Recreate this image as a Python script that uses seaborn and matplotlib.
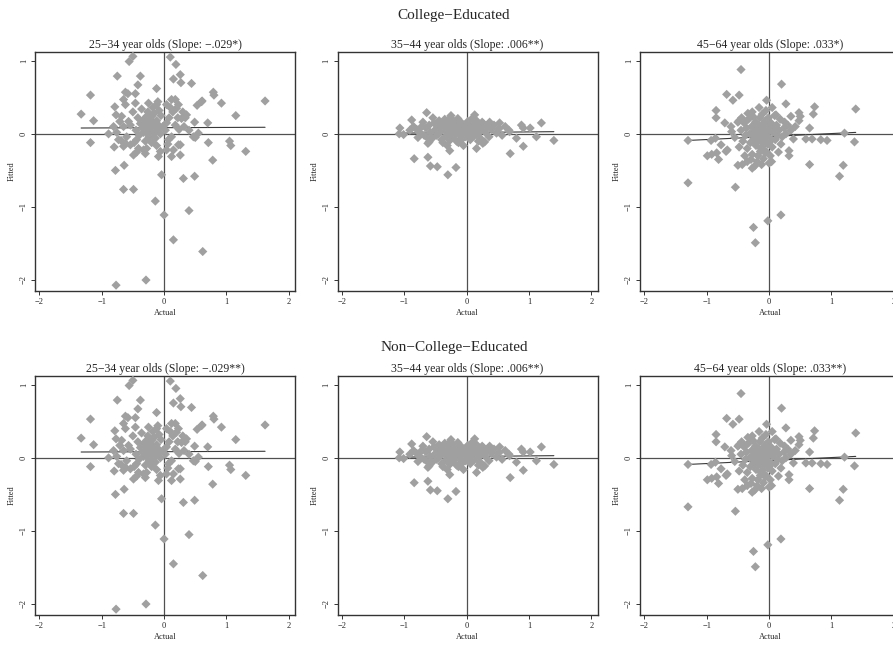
import numpy as np
import pandas as pd
import seaborn as sns
from matplotlib import pyplot as plt

# actual vs fitted
young_actual = [-0.50, -0.56, 0.10, 0.19, -0.75, -0.38, 0.15, 0.26, 0.27, 0.44, -0.42, -1.18, -0.62, -0.58, -0.46,
                -0.12, 0.79, 0.80, 1.62, 0.61, 0.53, 0.92, -1.33, -1.13, 1.15, 0.70, 0.49, 0.34, -1.18, -0.89,
                -0.80, -0.65, -0.54, -0.69, 1.05, 1.07, 1.31, 0.78, 0.71, 0.50, -0.78, -0.64, -0.09, -0.04, 0.31,
                0.49, -0.65, -0.49, -0.14, 0.00, 0.40, 0.15, 0.62, -0.29, -0.77, -0.30, -0.44, 0.26, 0.15, 0.04,
                -0.79, -0.65, -0.62, -0.46, -0.25, -0.12, 0.04, 0.12, 0.18, 0.23, 0.60, 0.28, 0.36, -0.77, -0.68,
                -0.71, -0.81, -0.76, -0.65, -0.57, -0.73, -0.62, -0.60, -0.44, -0.41, -0.33, -0.28, -0.06, 0.07,
                0.12, 0.23, 0.47, 0.55, 0.12, 0.26, -0.49,
                -0.30, -0.25, -0.20, -0.15, -0.28, -0.22, -0.18, -0.10, -0.35, -0.32, -0.12, -0.05, -0.08, -0.16,
                -0.26, -0.38, -0.42, -0.45, -0.40, -0.24, -0.14, -0.02, 0.04, 0.08, 0.14, 0.20, 0.10, 0.02, 0.18,
                0.24, -0.36, -0.50, -0.54, -0.20, -0.30, -0.12, -0.06, 0.30, 0.22, -0.18, -0.10, -0.28, -0.22,
                0.32, 0.40, -0.48, 0.06,
                -0.27, -0.23, -0.19, -0.21, -0.17, -0.31, -0.26, -0.14, -0.09, -0.33, -0.24, -0.16, -0.29, -0.20]
young_fitted = [1.06, 0.99, 1.05, 0.95, 0.79, 0.79, 0.75, 0.81, 0.70, 0.69, 0.67, 0.53, 0.57, 0.55, 0.55,
                0.62, 0.57, 0.53, 0.45, 0.45, 0.39, 0.42, 0.27, 0.18, 0.25, 0.15, 0.16, 0.22, -0.12, 0.00,
                -0.18, -0.17, -0.15, -0.09, -0.10, -0.16, -0.24, -0.36, -0.12, -0.05, -0.50, -0.43, -0.31, -0.56, -0.61,
                -0.58, -0.76, -0.76, -0.92, -1.11, -1.05, -1.45, -1.61, -2.00, -2.07, -0.27, -0.25, -0.15, -0.22, -0.22,
                0.37, 0.47, 0.40, 0.42, 0.42, 0.40, 0.40, 0.47, 0.47, 0.40, 0.44, 0.21, 0.26, 0.26, 0.24,
                0.17, 0.10, 0.02, 0.10, 0.17, -0.08, -0.13, -0.04, -0.08, -0.20, -0.22, -0.20, -0.24, -0.08,
                -0.04, -0.15, -0.04, 0.01, -0.31, -0.29, -0.29,
                0.05, 0.10, 0.08, 0.12, 0.15, 0.20, 0.02, 0.06, 0.08, 0.20, 0.18, 0.25, 0.32, 0.28,
                0.30, 0.14, 0.22, 0.05, -0.02, -0.04, -0.06, 0.10, 0.15, 0.22, 0.30, 0.35, 0.36, 0.05, 0.12,
                0.06, 0.34, 0.30, 0.12, -0.12, -0.10, -0.16, 0.00, 0.30, 0.22, 0.36, 0.44, 0.24, -0.08,
                0.10, 0.05, -0.12, -0.14,
                0.08, 0.04, 0.13, 0.17, 0.06, 0.12, 0.00, 0.02, 0.12, 0.02, 0.14, 0.09, 0.18, 0.24]

mid_actual = [-0.64, -0.88, -1.07, -1.08, -1.01, -0.91, 0.13, 1.20, 0.88, 0.91, 1.02, 0.68, 0.80, 1.12, 1.40,
              0.91, 0.70, -0.84, -0.62, -0.58, -0.47, -0.17, -0.30, -0.31, -0.27, -0.62, -0.60, -0.05, 0.16, 0.26,
              0.53, 0.37, -0.25, 0.29, 0.69,
              -0.80, -0.75, -0.72, -0.68, -0.65, -0.60, -0.58, -0.55, -0.52, -0.50, -0.48, -0.46, -0.44, -0.42,
              -0.40, -0.38, -0.36, -0.35, -0.33, -0.31, -0.30, -0.28, -0.27, -0.25, -0.24, -0.22, -0.21, -0.20,
              -0.18, -0.17, -0.16, -0.15, -0.14, -0.12, -0.11, -0.10, -0.08, -0.07, -0.06, -0.05, -0.04, -0.02,
              0.00, 0.02, 0.03, 0.05, 0.06, 0.08, 0.10, 0.12, 0.14, 0.16, 0.18, 0.20, 0.22, 0.24, 0.27, 0.30,
              0.33, 0.36, 0.40, 0.44, 0.48, 0.52, 0.57, 0.62, -0.70, -0.62, -0.54, -0.38, -0.26, -0.13, 0.09,
              0.19, -0.45, -0.19, -0.09, 0.01, 0.11, -0.29, -0.23, -0.03, 0.07, -0.34, 0.25, -0.78, -0.85]
mid_fitted = [0.29, 0.19, 0.08, 0.00, -0.01, 0.05, 0.26, 0.15, 0.12, 0.08, 0.08, 0.05, -0.06, -0.04, -0.09,
              -0.17, -0.27, -0.34, -0.32, -0.44, -0.45, -0.46, -0.56, -0.16, -0.23, -0.13, -0.11, -0.16, -0.20, -0.13,
              0.15, 0.16, 0.25, -0.11, 0.03,
              0.06, 0.02, 0.10, -0.02, 0.08, 0.12, 0.02, -0.06, 0.15, 0.06, -0.02, 0.10, 0.18, 0.03,
              -0.08, 0.12, 0.06, 0.20, -0.03, 0.09, 0.15, 0.02, -0.09, 0.11, 0.05, 0.18, -0.04, 0.08,
              0.13, 0.01, -0.10, 0.06, 0.21, 0.10, -0.02, 0.04, 0.15, -0.07, 0.08, 0.01, 0.12, -0.04,
              0.06, 0.17, -0.01, 0.09, -0.08, 0.04, 0.13, -0.03, 0.07, 0.18, 0.00, 0.10, -0.06, 0.05, 0.14, 0.02,
              0.09, -0.04, 0.06, 0.12, 0.01, 0.07, -0.02, 0.10, 0.16, -0.06, 0.22, -0.12, 0.22, -0.12, 0.21,
              -0.10, 0.00, 0.03, 0.00, 0.02, 0.01, 0.06, -0.01, 0.07, 0.11, 0.14, 0.16, -0.05, 0.10]

old_actual = [-0.45, 0.20, -0.68, -0.48, -0.58, -0.04, 0.27, -0.85, -0.85, 0.73, 0.71, 1.39, 0.48, 0.50, 0.48,
              0.35, 0.11, -0.27, -0.48, -0.50, -0.71, -0.61, 0.65, 1.21, 1.37, -1.30, -0.93, -0.86, -0.77, -0.69,
              -0.99, -0.92, -0.84, -0.81, -0.67, -0.50, -0.43, -0.27, -0.35, 0.04, 0.32, 0.32, 0.65, 1.19, 1.13,
              -1.30, -0.54, 0.69, 0.83, 0.93, 0.59, 0.39, 0.19, 0.19, -0.02, -0.25, -0.22,
              -0.45, -0.42, -0.40, -0.38, -0.36, -0.35, -0.33, -0.31, -0.30, -0.28, -0.27, -0.25, -0.24, -0.22,
              -0.21, -0.20, -0.18, -0.17, -0.16, -0.15, -0.14, -0.13, -0.12, -0.11, -0.10, -0.09, -0.08, -0.07,
              -0.06, -0.05, -0.04, -0.03, -0.02, 0.00, 0.01, 0.03, 0.05, 0.06, 0.08, 0.10, 0.12, 0.14, 0.16,
              0.18, 0.21, 0.24, 0.27, 0.30, -0.48, -0.44, -0.39, -0.34, -0.26, -0.19, -0.11, -0.01, 0.02, 0.09,
              -0.23, -0.12, -0.55, -0.60, -0.05, 0.15, 0.25, 0.35, 0.42, 0.05, -0.16, -0.29, 0.00,
              -0.20, -0.15, -0.10, -0.05, -0.18, -0.12, -0.08, -0.03, -0.22, -0.14, -0.06, 0.02, -0.26, -0.17]
old_fitted = [0.88, 0.68, 0.54, 0.53, 0.46, 0.46, 0.41, 0.32, 0.22, 0.37, 0.27, 0.34, 0.29, 0.24, 0.18,
              0.24, 0.26, 0.30, 0.18, 0.16, 0.15, 0.10, 0.08, 0.01, -0.11, -0.09, -0.09, -0.06, -0.15, -0.24,
              -0.30, -0.28, -0.26, -0.35, -0.22, -0.43, -0.42, -0.47, -0.38, -0.38, -0.23, -0.30, -0.42, -0.43, -0.58,
              -0.67, -0.73, -0.07, -0.08, -0.09, -0.07, -0.07, -0.14, -1.11, -1.19, -1.28, -1.49,
              0.05, -0.10, 0.15, -0.02, 0.08, -0.20, 0.20, 0.00, -0.12, 0.10, -0.28, 0.04, -0.06, 0.16,
              -0.16, 0.02, -0.30, 0.08, -0.09, 0.22, -0.02, -0.20, 0.12, 0.03, -0.12, -0.34, 0.06, -0.05,
              0.18, -0.24, 0.01, 0.10, -0.14, 0.04, -0.06, 0.15, -0.18, 0.02, 0.08, -0.08, 0.12, -0.02, 0.05,
              0.20, -0.04, 0.08, 0.00, 0.12, -0.18, 0.22, -0.30, 0.28, 0.24, -0.38, 0.27, 0.22, -0.30, 0.25,
              -0.44, -0.42, -0.05, 0.03, 0.32, -0.25, 0.16, 0.05, 0.10, 0.36, 0.36, -0.35, -0.40,
              -0.04, -0.07, -0.01, -0.10, 0.05, 0.07, -0.15, 0.07, -0.11, -0.24, -0.26, -0.10, 0.00, 0.12]

# fitted regression line, y at the left and right end of each panel's data
young_fit = [0.08, 0.09]
mid_fit = [0.01, 0.03]
old_fit = [-0.09, 0.02]

age_groups = ['25\u221234 year olds', '35\u221244 year olds', '45\u221264 year olds']
slopes = ['\u2212.029', '.006', '.033']
stars_college = ['*', '**', '*']
stars_noncollege = ['**', '**', '**']
row_titles = ['College\u2212Educated', 'Non\u2212College\u2212Educated']

panels = [(young_actual, young_fitted, young_fit),
          (mid_actual, mid_fitted, mid_fit),
          (old_actual, old_fitted, old_fit)]


def draw_panel(ax, actual, fitted, fit_y, title):
    ax.axhline(0, color='#505050', lw=0.9, zorder=1)
    ax.axvline(0, color='#505050', lw=0.9, zorder=1)

    fit_line = pd.DataFrame({'Actual': [min(actual), max(actual)], 'Fitted': fit_y})
    sns.lineplot(data=fit_line, x='Actual', y='Fitted', ax=ax, color='#3a3a3a', lw=0.8, zorder=2)

    points = pd.DataFrame({'Actual': actual, 'Fitted': fitted})
    sns.scatterplot(data=points, x='Actual', y='Fitted', ax=ax, marker='D', s=22,
                    color='#a0a0a0', edgecolor='none', linewidth=0, zorder=3)

    ax.set_xlim(-2.07, 2.1)
    ax.set_ylim(-2.15, 1.12)
    ax.set_xticks([-2, -1, 0, 1, 2])
    ax.set_yticks([-2, -1, 0, 1])
    ax.tick_params(axis='both', direction='out', length=3, width=0.7, labelsize=6, pad=2,
                   color='#333333')
    for lbl in ax.get_yticklabels():
        lbl.set_rotation(90)
        lbl.set_va('center')
    ax.set_xlabel('Actual', fontsize=6, labelpad=2)
    ax.set_ylabel('Fitted', fontsize=6, labelpad=3)
    ax.set_title(title, fontsize=8.5, pad=3)
    for spine in ax.spines.values():
        spine.set_visible(True)
        spine.set_color('#333333')
        spine.set_linewidth(1.0)


def plot():
    sns.set_style('ticks')
    plt.rcParams['font.family'] = ['Liberation Serif', 'DejaVu Serif']

    fig = plt.figure(figsize=(8.93, 6.47), dpi=100)

    lefts = [35 / 893, 337.5 / 893, 640 / 893]
    bottoms = [1 - 291 / 647, 1 - 615 / 647]
    width, height = 260 / 893, 239 / 647

    for row, stars in enumerate([stars_college, stars_noncollege]):
        for col, (actual, fitted, fit_y) in enumerate(panels):
            ax = fig.add_axes([lefts[col], bottoms[row], width, height])
            title = f'{age_groups[col]} (Slope: {slopes[col]}{stars[col]})'
            draw_panel(ax, actual, fitted, fit_y, title)

    fig.text(454 / 893, 1 - 16 / 647, row_titles[0], ha='center', va='center', fontsize=11)
    fig.text(454 / 893, 1 - 348 / 647, row_titles[1], ha='center', va='center', fontsize=11)

    fig.savefig('out.png', dpi=100)


if __name__ == '__main__':
    plot()
